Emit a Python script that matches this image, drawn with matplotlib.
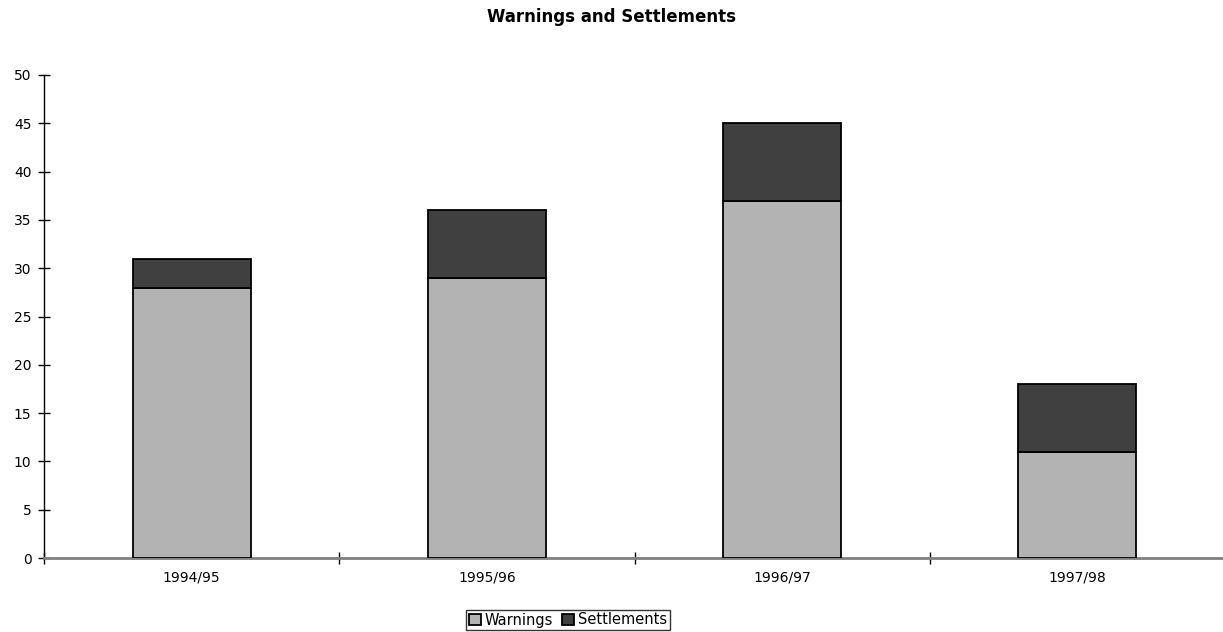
import numpy as np
import matplotlib
matplotlib.use("Agg")
import matplotlib.pyplot as plt

# values
years = ["1994/95", "1995/96", "1996/97", "1997/98"]
warnings = [28, 29, 37, 11]
settlements = [3, 7, 8, 7]

plt.rcParams['font.family'] = ['DejaVu Sans']

W, H = 1223, 632
fig = plt.figure(figsize=(W / 100, H / 100), dpi=100)
ax = fig.add_axes([44 / W, (H - 558) / H, (1225 - 44) / W, (558 - 75) / H])

x = np.arange(len(years))
ax.bar(x, warnings, width=0.4, color='#b3b3b3', edgecolor='black', linewidth=1.3,
       label='Warnings', zorder=3)
ax.bar(x, settlements, width=0.4, bottom=warnings, color='#404040', edgecolor='black',
       linewidth=1.3, label='Settlements', zorder=3)

ax.set_xlim(-0.5, len(years) - 0.5)
ax.set_ylim(0, 50)
ax.set_yticks(np.arange(0, 51, 5))
ax.tick_params(axis='y', direction='inout', length=8, width=1, labelsize=10, pad=5)

# category labels at centres, tick marks between categories
ax.set_xticks(x)
ax.set_xticklabels(years, fontsize=10)
ax.set_xticks(np.arange(-0.5, len(years)), minor=True)
ax.tick_params(axis='x', which='major', length=0, pad=9)
ax.tick_params(axis='x', which='minor', direction='inout', length=8, width=1)

for side in ['top', 'right']:
    ax.spines[side].set_visible(False)
ax.spines['left'].set_linewidth(1)
ax.spines['bottom'].set_color('#808080')
ax.spines['bottom'].set_linewidth(2)

fig.text(0.5, (H - 17) / H, "Warnings and Settlements", ha='center', va='center',
         fontsize=12, fontweight='bold')

leg = fig.legend(loc='center', bbox_to_anchor=(568 / W, (H - 620) / H), ncol=2,
                 fontsize=10.5, frameon=True, fancybox=False, handlelength=0.8,
                 handleheight=0.8, handletextpad=0.3, columnspacing=0.6,
                 borderpad=0.2, borderaxespad=0)
leg.get_frame().set_edgecolor('black')
leg.get_frame().set_linewidth(1)

fig.savefig("out.png", dpi=100)
